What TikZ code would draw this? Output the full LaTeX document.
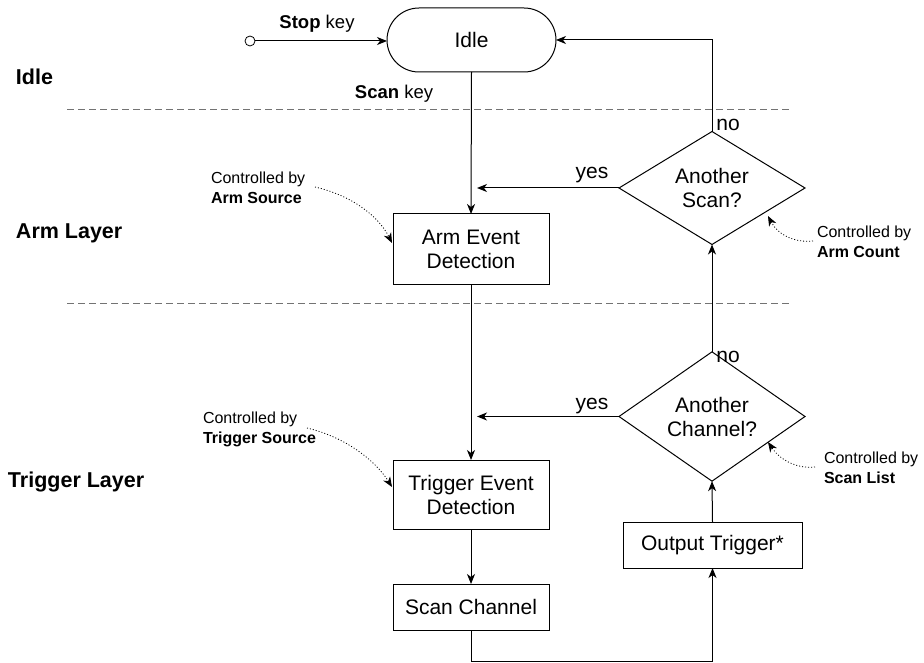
\documentclass[tikz,border=0pt]{standalone}
\usepackage{fontspec}
\setmainfont{Liberation Sans}
\usetikzlibrary{shapes.geometric,arrows.meta,calc}
\begin{document}
\begin{tikzpicture}[x=1pt,y=-1pt,
  every node/.style={font=\fontsize{21}{24}\selectfont, inner sep=0pt, outer sep=0pt},
  box/.style={draw, line width=1pt, minimum width=156pt, align=center},
  dec/.style={draw, diamond, line width=1pt, minimum width=186pt, minimum height=93pt, align=center},
  tip/.style={-{Stealth[length=10pt,width=8pt,inset=3pt]}},
  flow/.style={line width=1pt, tip},
  ctl/.style={line width=0.8pt, dash pattern=on 1pt off 2pt, tip},
  note/.style={font=\fontsize{16}{20}\selectfont, align=left, anchor=west},
  layer/.style={font=\fontsize{21.5}{24}\selectfont\bfseries, anchor=west},
  sep/.style={line width=1pt, draw=black!55, dash pattern=on 7pt off 4pt},
  keylbl/.style={font=\fontsize{18.5}{22}\selectfont}
]
\useasboundingbox (0,0) rectangle (924,663);

% layer separators
\draw[sep] (67,110) -- (790,110);
\draw[sep] (67,303) -- (790,303);

% layer labels
\node[layer] (lidle) at (16,77) {Idle};
\node[layer] (larm) at (16,233) {Arm Layer};
\node[layer] (ltrig) at (8,482) {Trigger Layer};

% nodes
\node[circle, draw, line width=0.8pt, minimum size=10pt] (start) at (250,41) {};
\node[draw, line width=1pt, rounded corners=32pt, minimum width=169pt, minimum height=64pt] (idle) at (471.5,40) {Idle};
\node[box, minimum height=70pt] (armev) at (471,249) {Arm Event\\Detection};
\node[box, minimum height=69pt] (trigev) at (471,494.5) {Trigger Event\\Detection};
\node[box, minimum height=46pt] (scanch) at (471,607) {Scan Channel};
\node[draw, line width=1pt, minimum width=179pt, minimum height=46pt] (outtrig) at (712.5,545) {Output Trigger*};
\node[dec] (dscan) at (712,188) {Another\\Scan?};
\node[dec] (dchan) at (712,416.5) {Another\\Channel?};

% labels
\node[keylbl] (stoplbl) at (317,24) {\textbf{Stop} key};
\node[keylbl] (scanlbl) at (394,94) {\textbf{Scan} key};
\node (yes1) at (592,175) {yes};
\node (no1) at (728,125) {no};
\node (yes2) at (592,406) {yes};
\node (no2) at (728,357) {no};

% notes
\node[note] (nA) at (211,188) {Controlled by\\\textbf{Arm Source}};
\node[note] (nB) at (817,241.5) {Controlled by\\\textbf{Arm Count}};
\node[note] (nC) at (203,429) {Controlled by\\\textbf{Trigger Source}};
\node[note] (nD) at (824,467.5) {Controlled by\\\textbf{Scan List}};

% coordinates
\coordinate (ys1) at (477,188);
\coordinate (ys2) at (477,416.5);
\coordinate (bot) at (471,661);
\coordinate (tA) at (392,243);
\coordinate (tB) at (768,216);
\coordinate (tC) at (392,487);
\coordinate (tD) at (768,442);

% flow connectors
\draw[flow] (start.east) -- (start.east -| idle.west);
\draw[flow] (idle.south) -- (armev.north);
\draw[flow] (dscan.west) -- (ys1);
\draw[flow] (dscan.north) |- (idle.east);
\draw[flow] (armev.south) -- (trigev.north);
\draw[flow] (dchan.west) -- (ys2);
\draw[flow] (dchan.north) -- (dscan.south);
\draw[flow] (outtrig.north) -- (dchan.south);
\draw[flow] (trigev.south) -- (scanch.north);
\draw[flow] (scanch.south) -- (bot) -| (outtrig.south);

% dotted control annotations
\draw[ctl] (315,187) .. controls (350,195) and (378,215) .. (tA);
\draw[ctl] (813,241) .. controls (795,243) and (778,235) .. (tB);
\draw[ctl] (307,428) .. controls (345,437) and (375,460) .. (tC);
\draw[ctl] (815,467) .. controls (797,469) and (780,460) .. (tD);
\end{tikzpicture}
\end{document}
